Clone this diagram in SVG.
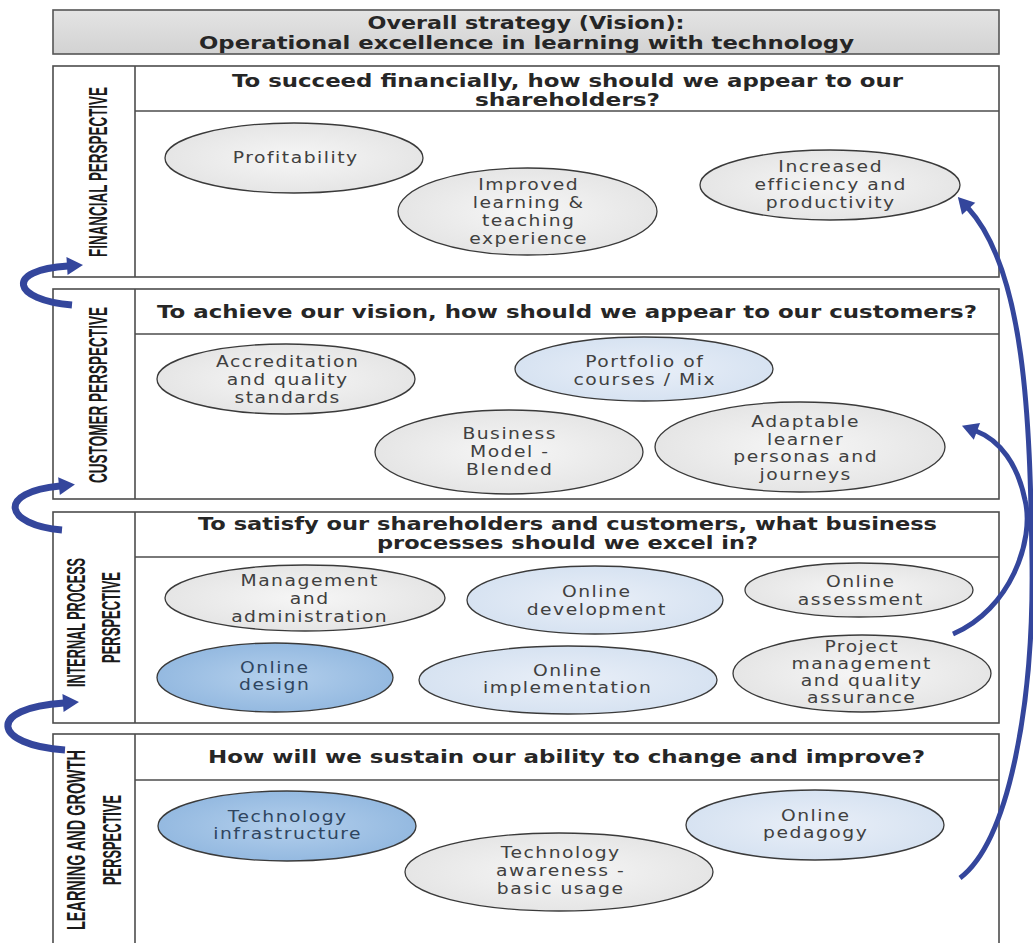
<svg xmlns="http://www.w3.org/2000/svg" width="1033" height="943" viewBox="0 0 1033 943">
<defs>
<style>
.panel{fill:#ffffff;stroke:#4d4d4d;stroke-width:1.6}
.div{stroke:#4d4d4d;stroke-width:1.6}
.ttl{font-family:"DejaVu Sans",Verdana,sans-serif;font-weight:bold;font-size:17px;fill:#262626;text-anchor:middle}
.vlab{font-family:"Liberation Sans",Arial,sans-serif;font-weight:bold;font-size:26px;fill:#1a1a1a;text-anchor:middle}
.el{stroke:#3a3a3a;stroke-width:1.3}
.lbl{font-family:"DejaVu Sans",Verdana,sans-serif;font-size:15px;fill:#404040;text-anchor:middle;letter-spacing:1.2px}
.lblb{fill:#2f4560}
.arr{fill:none;stroke:#34469c;stroke-linecap:butt}
</style>
<linearGradient id="hdr" x1="0" y1="0" x2="0" y2="1">
<stop offset="0" stop-color="#e4e4e4"/><stop offset="1" stop-color="#d2d2d2"/>
</linearGradient>
<radialGradient id="gGray" cx="0.5" cy="0.5" r="0.6">
<stop offset="0" stop-color="#f6f6f6"/><stop offset="1" stop-color="#e2e2e2"/>
</radialGradient>
<radialGradient id="gLight" cx="0.5" cy="0.5" r="0.6">
<stop offset="0" stop-color="#e9eff8"/><stop offset="1" stop-color="#d3e0f0"/>
</radialGradient>
<radialGradient id="gMed" cx="0.5" cy="0.5" r="0.6">
<stop offset="0" stop-color="#b3cfec"/><stop offset="1" stop-color="#8eb5de"/>
</radialGradient>
<marker id="ah" markerUnits="userSpaceOnUse" markerWidth="20" markerHeight="22" viewBox="0 -11 18 22" refX="1" refY="0" orient="auto">
<path d="M0,-9 L16,0 L0,9 z" fill="#34469c"/>
</marker>
</defs>

<rect width="1033" height="943" fill="#ffffff"/>

<g id="header">
<rect x="53" y="10" width="946" height="44" fill="url(#hdr)" stroke="#555555" stroke-width="1.6"/>
<text class="ttl" x="526" y="29" textLength="317" lengthAdjust="spacingAndGlyphs">Overall strategy (Vision):</text>
<text class="ttl" x="526.5" y="48.5" textLength="655" lengthAdjust="spacingAndGlyphs">Operational excellence in learning with technology</text>
</g>

<g id="financial-panel">
<rect class="panel" x="53" y="66" width="946" height="211"/>
<line class="div" x1="135" y1="66" x2="135" y2="277"/>
<line class="div" x1="135" y1="111" x2="999" y2="111"/>
<text class="vlab" transform="translate(107 172) rotate(-90)" textLength="170" lengthAdjust="spacingAndGlyphs">FINANCIAL PERSPECTIVE</text>
<text class="ttl" x="567.5" y="86.5" textLength="671" lengthAdjust="spacingAndGlyphs">To succeed financially, how should we appear to our</text>
<text class="ttl" x="567.5" y="106" textLength="185" lengthAdjust="spacingAndGlyphs">shareholders?</text>
</g>

<g id="customer-panel">
<rect class="panel" x="53" y="289" width="946" height="210"/>
<line class="div" x1="135" y1="289" x2="135" y2="499"/>
<line class="div" x1="135" y1="334" x2="999" y2="334"/>
<text class="vlab" transform="translate(107 395) rotate(-90)" textLength="176" lengthAdjust="spacingAndGlyphs">CUSTOMER PERSPECTIVE</text>
<text class="ttl" x="567" y="317.5" textLength="820" lengthAdjust="spacingAndGlyphs">To achieve our vision, how should we appear to our customers?</text>
</g>

<g id="internal-panel">
<rect class="panel" x="53" y="512" width="946" height="211"/>
<line class="div" x1="135" y1="512" x2="135" y2="723"/>
<line class="div" x1="135" y1="557" x2="999" y2="557"/>
<text class="vlab" transform="translate(85 622.5) rotate(-90)" textLength="129" lengthAdjust="spacingAndGlyphs">INTERNAL PROCESS</text>
<text class="vlab" transform="translate(120 617.5) rotate(-90)" textLength="91" lengthAdjust="spacingAndGlyphs">PERSPECTIVE</text>
<text class="ttl" x="567.5" y="530" textLength="739" lengthAdjust="spacingAndGlyphs">To satisfy our shareholders and customers, what business</text>
<text class="ttl" x="567.5" y="549" textLength="381" lengthAdjust="spacingAndGlyphs">processes should we excel in?</text>
</g>

<g id="learning-panel">
<rect class="panel" x="53" y="734" width="946" height="240"/>
<line class="div" x1="135" y1="734" x2="135" y2="943"/>
<line class="div" x1="135" y1="780" x2="999" y2="780"/>
<text class="vlab" transform="translate(85 840) rotate(-90)" textLength="180" lengthAdjust="spacingAndGlyphs">LEARNING AND GROWTH</text>
<text class="vlab" transform="translate(121 840) rotate(-90)" textLength="90" lengthAdjust="spacingAndGlyphs">PERSPECTIVE</text>
<text class="ttl" x="566.5" y="763" textLength="717" lengthAdjust="spacingAndGlyphs">How will we sustain our ability to change and improve?</text>
</g>

<g id="profitability">
<ellipse class="el" cx="294" cy="158" rx="129" ry="35" fill="url(#gGray)"/>
<text class="lbl" transform="translate(295.7 0) scale(1.25 1)" x="0" y="163">Profitability</text>
</g>
<g id="improved-learning">
<ellipse class="el" cx="527.5" cy="211.5" rx="129.5" ry="43.5" fill="url(#gGray)"/>
<text class="lbl" transform="translate(528.7 0) scale(1.25 1)"><tspan x="0" y="190">Improved</tspan><tspan x="0" y="208">learning &amp;</tspan><tspan x="0" y="226">teaching</tspan><tspan x="0" y="244">experience</tspan></text>
</g>
<g id="increased-efficiency">
<ellipse class="el" cx="830" cy="185" rx="130" ry="35" fill="url(#gGray)"/>
<text class="lbl" transform="translate(830.7 0) scale(1.25 1)"><tspan x="0" y="172">Increased</tspan><tspan x="0" y="190">efficiency and</tspan><tspan x="0" y="208">productivity</tspan></text>
</g>

<g id="accreditation">
<ellipse class="el" cx="286" cy="379" rx="129" ry="35" fill="url(#gGray)"/>
<text class="lbl" transform="translate(287.7 0) scale(1.25 1)"><tspan x="0" y="367">Accreditation</tspan><tspan x="0" y="385">and quality</tspan><tspan x="0" y="403">standards</tspan></text>
</g>
<g id="portfolio">
<ellipse class="el" cx="644" cy="369" rx="129" ry="32" fill="url(#gLight)"/>
<text class="lbl" transform="translate(644.7 0) scale(1.25 1)"><tspan x="0" y="367">Portfolio of</tspan><tspan x="0" y="385">courses / Mix</tspan></text>
</g>
<g id="business-model">
<ellipse class="el" cx="509" cy="452" rx="134" ry="42" fill="url(#gGray)"/>
<text class="lbl" transform="translate(509.7 0) scale(1.25 1)"><tspan x="0" y="439">Business</tspan><tspan x="0" y="457">Model -</tspan><tspan x="0" y="475">Blended</tspan></text>
</g>
<g id="adaptable-learner">
<ellipse class="el" cx="800" cy="447" rx="145" ry="45" fill="url(#gGray)"/>
<text class="lbl" transform="translate(805.7 0) scale(1.25 1)"><tspan x="0" y="427">Adaptable</tspan><tspan x="0" y="445">learner</tspan><tspan x="0" y="462">personas and</tspan><tspan x="0" y="480">journeys</tspan></text>
</g>

<g id="management">
<ellipse class="el" cx="305" cy="598" rx="140" ry="33" fill="url(#gGray)"/>
<text class="lbl" transform="translate(309.7 0) scale(1.25 1)"><tspan x="0" y="586">Management</tspan><tspan x="0" y="604">and</tspan><tspan x="0" y="622">administration</tspan></text>
</g>
<g id="online-development">
<ellipse class="el" cx="595" cy="600" rx="128" ry="34" fill="url(#gLight)"/>
<text class="lbl" transform="translate(596.7 0) scale(1.25 1)"><tspan x="0" y="597">Online</tspan><tspan x="0" y="615">development</tspan></text>
</g>
<g id="online-assessment">
<ellipse class="el" cx="859" cy="590" rx="114" ry="27" fill="url(#gGray)"/>
<text class="lbl" transform="translate(860.7 0) scale(1.25 1)"><tspan x="0" y="587">Online</tspan><tspan x="0" y="605">assessment</tspan></text>
</g>
<g id="online-design">
<ellipse class="el" cx="275" cy="677.5" rx="118" ry="34.5" fill="url(#gMed)"/>
<text class="lbl lblb" transform="translate(274.7 0) scale(1.25 1)"><tspan x="0" y="673">Online</tspan><tspan x="0" y="690">design</tspan></text>
</g>
<g id="online-implementation">
<ellipse class="el" cx="568" cy="680" rx="149" ry="34" fill="url(#gLight)"/>
<text class="lbl" transform="translate(567.7 0) scale(1.25 1)"><tspan x="0" y="676">Online</tspan><tspan x="0" y="693">implementation</tspan></text>
</g>
<g id="project-management">
<ellipse class="el" cx="862" cy="673.5" rx="129" ry="38.5" fill="url(#gGray)"/>
<text class="lbl" transform="translate(861.7 0) scale(1.25 1)"><tspan x="0" y="652">Project</tspan><tspan x="0" y="669">management</tspan><tspan x="0" y="686">and quality</tspan><tspan x="0" y="703">assurance</tspan></text>
</g>

<g id="technology-infrastructure">
<ellipse class="el" cx="287" cy="826" rx="129" ry="35" fill="url(#gMed)"/>
<text class="lbl lblb" transform="translate(287.7 0) scale(1.25 1)"><tspan x="0" y="822">Technology</tspan><tspan x="0" y="839">infrastructure</tspan></text>
</g>
<g id="online-pedagogy">
<ellipse class="el" cx="815" cy="825" rx="129" ry="35" fill="url(#gLight)"/>
<text class="lbl" transform="translate(815.7 0) scale(1.25 1)"><tspan x="0" y="821">Online</tspan><tspan x="0" y="838">pedagogy</tspan></text>
</g>
<g id="technology-awareness">
<ellipse class="el" cx="559" cy="872" rx="154" ry="39" fill="url(#gGray)"/>
<text class="lbl" transform="translate(560.7 0) scale(1.25 1)"><tspan x="0" y="858">Technology</tspan><tspan x="0" y="876">awareness -</tspan><tspan x="0" y="894">basic usage</tspan></text>
</g>

<g id="connectors">
<path class="arr" stroke-width="7" d="M 72 305 C 12 300, 4 270, 68 266" marker-end="url(#ah)"/>
<path class="arr" stroke-width="7" d="M 62 530 C 4 525, -4 492, 60 486" marker-end="url(#ah)"/>
<path class="arr" stroke-width="7" d="M 65 750 C -8 745, -14 708, 64 703" marker-end="url(#ah)"/>
<path class="arr" stroke-width="5" d="M 960 878 C 1010 840, 1034 700, 1032 560 C 1030 420, 1025 270, 968 208" marker-end="url(#ah)"/>
<path class="arr" stroke-width="5" d="M 953 634 C 1010 610, 1035 540, 1025 500 C 1018 465, 1000 440, 976 431" marker-end="url(#ah)"/>
</g>
</svg>
